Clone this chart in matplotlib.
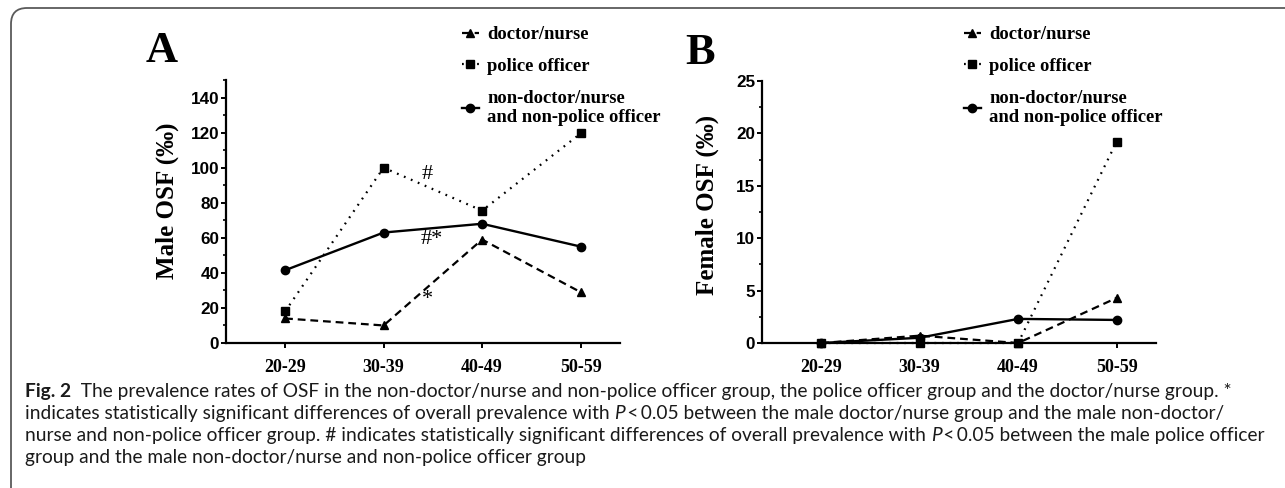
import matplotlib
matplotlib.use("Agg")
import matplotlib.pyplot as plt
from matplotlib.patches import FancyBboxPatch
from matplotlib.transforms import IdentityTransform

# ---------------- data ----------------
age_groups = ["20-29", "30-39", "40-49", "50-59"]
series_names = ["doctor/nurse", "police officer", "non-doctor/nurse\nand non-police officer"]

male_doctor_nurse = [14, 10, 59, 29]
male_police = [18, 100, 75.5, 119.5]
male_other = [41.5, 63, 68, 55]

female_doctor_nurse = [0, 0.7, 0, 4.3]
female_police = [0, 0, 0, 19.2]
female_other = [0, 0.5, 2.3, 2.2]

male_yticks = [0, 20, 40, 60, 80, 100, 120, 140]
female_yticks = [0, 5, 10, 15, 20, 25]

caption_lines = [
    [("Fig. 2", "bold"), ("  The prevalence rates of OSF in the non-doctor/nurse and non-police officer group, the police officer group and the doctor/nurse group. *", "normal")],
    [("indicates statistically significant differences of overall prevalence with ", "normal"), ("P", "italic"), ("\u2009<\u20090.05 between the male doctor/nurse group and the male non-doctor/", "normal")],
    [("nurse and non-police officer group. # indicates statistically significant differences of overall prevalence with ", "normal"), ("P", "italic"), ("\u2009<\u20090.05 between the male police officer", "normal")],
    [("group and the male non-doctor/nurse and non-police officer group", "normal")],
]

# ---------------- figure ----------------
W, H = 1285, 488
fig = plt.figure(figsize=(W / 100, H / 100), dpi=100)

SERIF = "Liberation Serif"
SANS = "Liberation Sans"
CAP = ["Lato", "DejaVu Sans"]

def px_axes(left, right, top, bottom):
    return fig.add_axes([left / W, 1 - bottom / H, (right - left) / W, (bottom - top) / H])

axA = px_axes(226, 620, 80, 343)
axB = px_axes(762, 1156, 81, 343)

x = list(range(len(age_groups)))

styles = [
    dict(ls=(0, (3.5, 2.2)), marker="^", ms=5.5, lw=1.6),
    dict(ls=(0, (0.8, 2.6)), marker="s", ms=5.8, lw=1.6),
    dict(ls="-", marker="o", ms=6, lw=1.7),
]

def draw(ax, vals, ymax, yticks, minor_step, ylabel, label_xy):
    handles = []
    for v, st in zip(vals, styles):
        h, = ax.plot(x, v, color="black", linestyle=st["ls"], lw=st["lw"],
                     marker=st["marker"], ms=st["ms"], clip_on=False, zorder=3)
        handles.append(h)
    ax.set_xlim(-0.6, 3.4)
    ax.set_ylim(0, ymax)
    ax.set_xticks(x)
    ax.set_xticklabels(age_groups, fontfamily=SERIF, fontweight="bold", fontsize=13)
    ax.set_yticks(yticks)
    ax.set_yticklabels([str(t) for t in yticks], fontfamily=SANS, fontweight="bold", fontsize=12.3)
    ax.set_yticks([t + minor_step for t in yticks if t + minor_step <= ymax], minor=True)
    for s in ["top", "right"]:
        ax.spines[s].set_visible(False)
    for s in ["left", "bottom"]:
        ax.spines[s].set_linewidth(1.6)
    ax.tick_params(axis="both", which="major", direction="out", length=3.8, width=1.4, pad=1)
    ax.tick_params(axis="x", which="major", pad=7.5)
    ax.tick_params(axis="y", which="minor", direction="out", length=2.5, width=1.2)
    ax.set_ylabel(ylabel, fontfamily=SERIF, fontweight="bold", fontsize=18)
    ax.yaxis.set_label_coords(*label_xy)
    ax.patch.set_alpha(0)
    return handles

hA = draw(axA, [male_doctor_nurse, male_police, male_other], 150, male_yticks, 10,
          "Male OSF (\u2030)", (-0.12, 0.54))
hB = draw(axB, [female_doctor_nurse, female_police, female_other], 25, female_yticks, 2.5,
          "Female OSF (\u2030)", (-0.11, 0.527))

# significance marks
axA.text(1.44, 96, "#", fontfamily=SERIF, fontsize=16, ha="center", va="center")
axA.text(1.49, 59, "#*", fontfamily=SERIF, fontsize=16, ha="center", va="center")
axA.text(1.45, 25, "*", fontfamily=SERIF, fontsize=16, ha="center", va="center")

# panel letters
fig.text(162 / W, 1 - 51 / H, "A", fontfamily=SERIF, fontweight="bold", fontsize=32, ha="center", va="center")
fig.text(700 / W, 1 - 53 / H, "B", fontfamily=SERIF, fontweight="bold", fontsize=32, ha="center", va="center")

# legends
for ax, hs, xl in [(axA, hA, 462), (axB, hB, 964)]:
    ax.legend(hs, series_names, loc="upper left", bbox_to_anchor=(xl / W, 1 - 26 / H),
              bbox_transform=fig.transFigure, frameon=False, borderpad=0, borderaxespad=0,
              handlelength=0.9, handletextpad=0.45, labelspacing=0.8,
              prop=dict(family=SERIF, weight="bold", size=13.4))

# border
border = FancyBboxPatch((11, -40), 1400, 520, boxstyle="round,pad=0,rounding_size=16",
                        transform=IdentityTransform(), fill=False, edgecolor="#5a5a5a", lw=1.3,
                        clip_on=False)
fig.patches.append(border)

# caption
renderer = fig.canvas.get_renderer()
probe = fig.text(0, 0, "".join(s for s, _ in caption_lines[2]), fontfamily=CAP, fontsize=10)
wprobe = probe.get_window_extent(renderer).width
probe.remove()
cap_size = 10 * 1241 / wprobe

baselines = [397, 419, 441, 463]
for segs, yy in zip(caption_lines, baselines):
    xx = 25
    for s, st in segs:
        kw = dict(fontfamily=CAP, fontsize=cap_size, va="baseline", ha="left", color="#1a1a1a")
        if st == "bold":
            kw["fontweight"] = "bold"
        if st == "italic":
            kw["fontstyle"] = "italic"
        t = fig.text(xx / W, 1 - yy / H, s, **kw)
        xx += t.get_window_extent(renderer).width

fig.savefig("out.png", dpi=100)
